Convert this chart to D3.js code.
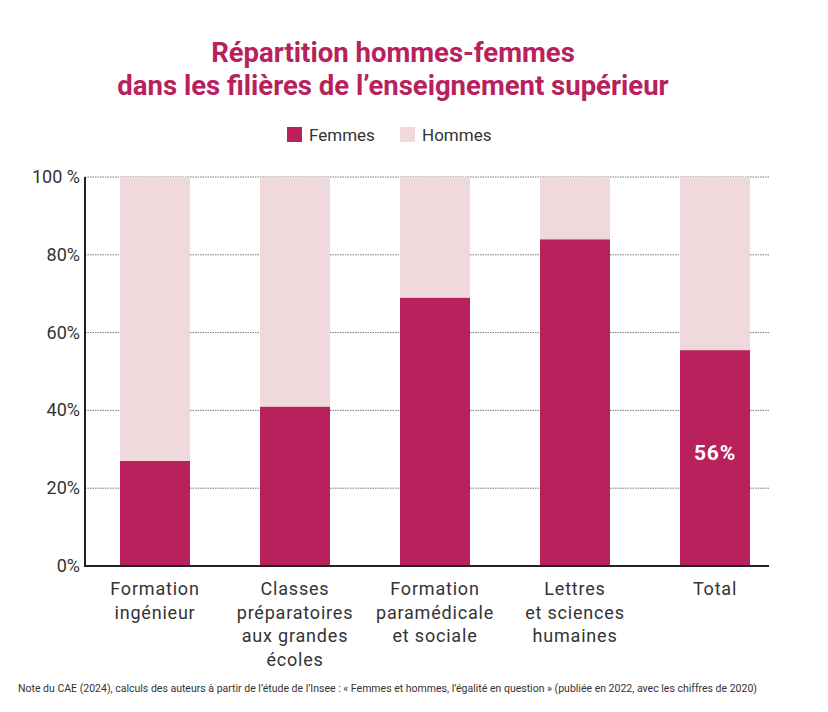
<!DOCTYPE html>
<html><head><meta charset="utf-8">
<script src="https://cdn.jsdelivr.net/npm/d3@7"></script>
<style>body{margin:0;background:#fff}svg{display:block}</style>
</head><body><svg id="c" width="828" height="712"></svg>
<script>
const categories = [["Formation","ingénieur"],["Classes","préparatoires","aux grandes","écoles"],["Formation","paramédicale","et sociale"],["Lettres","et sciences","humaines"],["Total"]];
const femmes = [27, 41, 69, 84, 55.5];
const hommes = femmes.map(v => 100 - v);
const yTicks = [0, 20, 40, 60, 80, 100];
const yTickLabels = ["0%", "20%", "40%", "60%", "80%", "100 %"];
const seriesNames = ["Femmes", "Hommes"];
const colors = ["#b8215c", "#f0d9dc"];

const svg = d3.select("#c");
const font = "Roboto, 'Open Sans', sans-serif";
const x = d3.scaleBand().domain(d3.range(categories.length)).range([85, 785]).paddingInner(0.5).paddingOuter(0.25);
const y = d3.scaleLinear().domain([0, 100]).range([566, 177]);

// title
svg.append("text").attr("x", 393).attr("y", 62).attr("text-anchor", "middle")
  .attr("font-family", font).attr("font-weight", 700).attr("font-size", 27.5).attr("fill", "#b8215c")
  .text("Répartition hommes-femmes");
svg.append("text").attr("x", 393).attr("y", 95).attr("text-anchor", "middle")
  .attr("font-family", font).attr("font-weight", 700).attr("font-size", 27.5).attr("fill", "#b8215c")
  .text("dans les filières de l’enseignement supérieur");

// legend
const legX = [287, 400];
seriesNames.forEach((n, i) => {
  svg.append("rect").attr("x", legX[i]).attr("y", 127).attr("width", 15).attr("height", 15).attr("fill", colors[i]);
  svg.append("text").attr("x", legX[i] + 22).attr("y", 141).attr("font-family", font).attr("font-size", 17)
    .attr("fill", "#333").text(n);
});

// grid
svg.append("g").selectAll("line").data(yTicks.filter(d => d > 0)).join("line")
  .attr("x1", 85).attr("x2", 769).attr("y1", d => y(d)).attr("y2", d => y(d))
  .attr("stroke", "#777").attr("stroke-width", 1).attr("stroke-dasharray", "1.5,1");

// bars
const stacked = d3.stack().keys([0, 1]).value((d, k) => k === 0 ? femmes[d] : hommes[d])(d3.range(categories.length));
stacked.forEach((s, k) => {
  svg.append("g").selectAll("rect").data(s).join("rect")
    .attr("x", (d, i) => x(i)).attr("width", x.bandwidth())
    .attr("y", d => y(d[1])).attr("height", d => y(d[0]) - y(d[1]))
    .attr("fill", colors[k]);
});

// value label on total
const last = categories.length - 1;
svg.append("text").attr("x", x(last) + x.bandwidth() / 2).attr("y", 460).attr("text-anchor", "middle")
  .attr("font-family", font).attr("font-weight", 700).attr("font-size", 21).attr("letter-spacing", 0.8).attr("fill", "#fff")
  .text(Math.round(femmes[last]) + "%");

// axes lines
svg.append("line").attr("x1", 85).attr("x2", 85).attr("y1", 177).attr("y2", 567).attr("stroke", "#222").attr("stroke-width", 2);
svg.append("line").attr("x1", 84).attr("x2", 769).attr("y1", 566).attr("y2", 566).attr("stroke", "#222").attr("stroke-width", 2);

// y tick labels
svg.append("g").selectAll("text").data(yTicks).join("text")
  .attr("x", 80).attr("y", d => y(d) + 6).attr("text-anchor", "end")
  .attr("font-family", font).attr("font-size", 18).attr("fill", "#333")
  .text((d, i) => yTickLabels[i]);

// x labels
categories.forEach((lines, i) => {
  const t = svg.append("text").attr("x", x(i) + x.bandwidth() / 2).attr("y", 595).attr("text-anchor", "middle")
    .attr("font-family", font).attr("font-size", 18).attr("fill", "#333").attr("letter-spacing", 0.8);
  lines.forEach((l, j) => t.append("tspan").attr("x", x(i) + x.bandwidth() / 2).attr("dy", j === 0 ? 0 : 23.5).text(l));
});

// footnote
svg.append("text").attr("x", 18).attr("y", 692).attr("font-family", font).attr("font-size", 10.5).attr("fill", "#333")
  .attr("textLength", 739).attr("lengthAdjust", "spacingAndGlyphs")
  .text("Note du CAE (2024), calculs des auteurs à partir de l’étude de l’Insee : « Femmes et hommes, l’égalité en question » (publiée en 2022, avec les chiffres de 2020)");
</script></body></html>
